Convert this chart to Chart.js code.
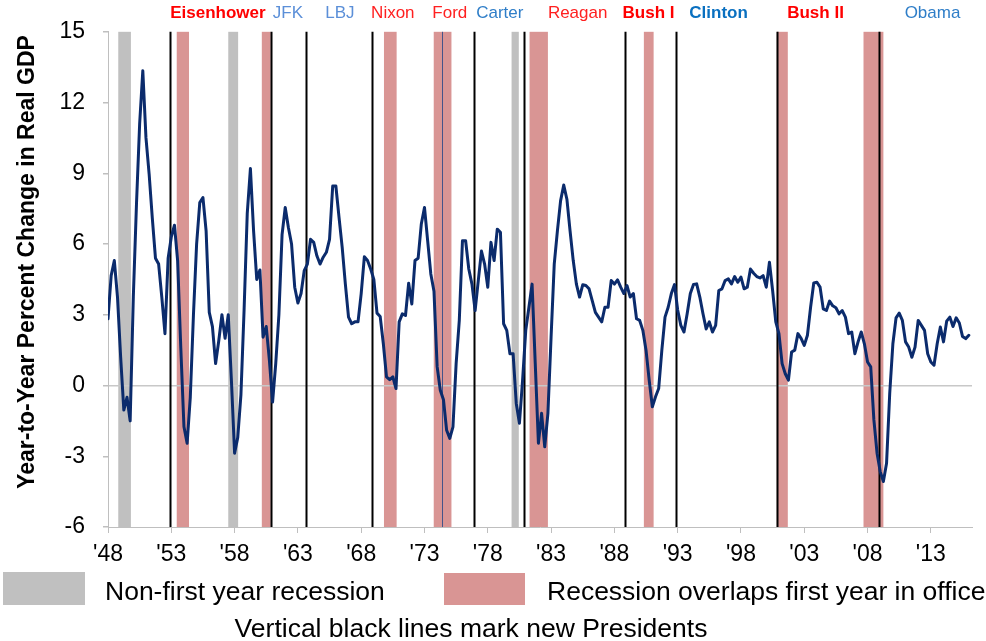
<!DOCTYPE html>
<html>
<head>
<meta charset="utf-8">
<script src="https://cdn.jsdelivr.net/npm/chart.js@4"></script>
<style>
  body { margin: 0; background: #fff; }
  #wrap { width: 986px; height: 641px; }
</style>
</head>
<body>
<div id="wrap"><canvas id="myChart" width="986" height="641"></canvas></div>
<script>
// quarterly data, first point = 1948 Q1
const startYear = 1948;

// Year-to-year % change in real GDP, one row = two years (8 quarters)
const gdpGrowth = [
  2.83, 4.66, 5.3, 3.75, 1.2, -1.04, -0.5, -1.5,
  3.75, 7.7, 11.1, 13.35, 10.5, 8.96, 7.1, 5.4,
  5.15, 3.75, 2.2, 5.4, 6.3, 6.8, 5.3, 1.6,
  -1.75, -2.45, -0.5, 3.0, 6.0, 7.76, 7.97, 6.56,
  3.1, 2.5, 0.93, 1.9, 3.0, 2.0, 3.0, 0.2,
  -2.87, -2.2, -0.4, 3.2, 7.3, 9.2, 6.56, 4.5,
  4.9, 2.05, 2.5, 1.07, -0.7, 0.93, 3.0, 6.4,
  7.55, 6.7, 6.0, 4.17, 3.5, 3.9, 4.87, 5.15,
  6.2, 6.07, 5.5, 5.15, 5.44, 5.65, 6.2, 8.46,
  8.46, 7.13, 5.86, 4.3, 2.9, 2.62, 2.7, 2.7,
  3.9, 5.46, 5.3, 4.94, 4.5, 3.07, 2.93, 1.77,
  0.37, 0.25, 0.37, -0.13, 2.7, 3.04, 2.97, 4.34,
  3.46, 5.3, 5.4, 6.85, 7.55, 6.14, 4.73, 4.0,
  0.8, -0.2, -0.6, -1.9, -2.24, -1.75, 0.93, 2.76,
  6.14, 6.14, 4.94, 4.3, 3.18, 4.45, 5.7, 5.15,
  4.17, 6.07, 5.3, 6.63, 6.5, 2.62, 2.34, 1.35,
  1.35, -0.76, -1.6, 0.23, 2.34, 3.32, 4.3, 0.93,
  -2.45, -1.18, -2.6, -1.18, 2.05, 5.15, 6.56, 7.83,
  8.5, 7.9, 6.56, 5.3, 4.3, 3.75, 4.27, 4.24,
  4.1, 3.6, 3.1, 2.9, 2.7, 3.32, 3.32, 4.45,
  4.3, 4.48, 4.17, 3.9, 4.24, 3.75, 3.9, 2.83,
  2.76, 2.34, 1.5, 0.23, -0.9, -0.48, -0.13, 1.5,
  2.9, 3.32, 3.9, 4.28, 3.2, 2.55, 2.27, 3.04,
  3.9, 4.28, 4.31, 3.75, 3.04, 2.4, 2.7, 2.27,
  2.55, 4.03, 4.1, 4.45, 4.52, 4.31, 4.62, 4.38,
  4.6, 4.1, 4.17, 4.94, 4.76, 4.62, 4.56, 4.66,
  4.17, 5.23, 4.03, 2.7, 2.2, 0.93, 0.5, 0.23,
  1.42, 1.5, 2.2, 2.0, 1.7, 2.13, 3.32, 4.35,
  4.38, 4.17, 3.25, 3.18, 3.58, 3.38, 3.3, 3.04,
  3.18, 2.9, 2.2, 2.27, 1.35, 1.85, 2.27, 1.77,
  1.0, 0.79, -1.46, -2.87, -3.65, -4.07, -3.3, -0.34,
  1.77, 2.87, 3.07, 2.76, 1.85, 1.63, 1.2, 1.63,
  2.76, 2.55, 2.34, 1.35, 1.0, 0.86, 1.77, 2.48,
  1.85, 2.73, 2.9, 2.5, 2.87, 2.65, 2.08, 1.99,
  2.13
];

const tickYears = [1948, 1953, 1958, 1963, 1968, 1973, 1978, 1983, 1988, 1993, 1998, 2003, 2008, 2013];
const tickLabels = ["'48", "'53", "'58", "'63", "'68", "'73", "'78", "'83", "'88", "'93", "'98", "'03", "'08", "'13"];
const yTicks = [-6, -3, 0, 3, 6, 9, 12, 15];

// recession shading (years), kind: 'other' = non-first year, 'first' = overlaps first year in office
const recessionStart = [1948.81, 1953.43, 1957.50, 1960.15, 1969.80, 1973.73, 1979.88, 1981.30, 1990.33, 2000.83, 2007.68];
const recessionEnd   = [1949.81, 1954.40, 1958.28, 1960.85, 1970.80, 1975.13, 1980.45, 1982.75, 1991.10, 2001.70, 2009.25];
const recessionKind  = ['other', 'first', 'other', 'first', 'first', 'first', 'other', 'first', 'first', 'first', 'first'];

// new presidents
const presidentNames = ['Eisenhower', 'JFK', 'LBJ', 'Nixon', 'Ford', 'Carter', 'Reagan', 'Bush I', 'Clinton', 'Bush II', 'Obama'];
const presidentStart = [1952.875, 1960.875, 1963.625, 1968.875, 1974.375, 1976.875, 1980.875, 1988.875, 1992.875, 2000.875, 2008.875];
const presidentLabelAt = [1956.68, 1962.21, 1966.32, 1970.5, 1975.0, 1978.95, 1985.1, 1990.7, 1996.23, 2003.89, 2013.13];

// label styles
const labelStyle = {
  'Eisenhower': ['#FF0000', true], 'JFK': ['#5B8FD8', false], 'LBJ': ['#5B8FD8', false],
  'Nixon': ['#FF2020', false], 'Ford': ['#FF2020', false], 'Carter': ['#2F7EC8', false],
  'Reagan': ['#FF2020', false], 'Bush I': ['#FF0000', true], 'Clinton': ['#0A70C0', true],
  'Bush II': ['#FF0000', true], 'Obama': ['#2F7EC8', false]
};

const FONT = '"Liberation Sans", Arial, sans-serif';
const points = gdpGrowth.map((v, i) => ({ x: startYear + i / 4, y: v }));

const overlays = {
  id: 'overlays',
  beforeDraw(chart) {
    const { ctx, chartArea: a, scales: { x } } = chart;
    ctx.save();
    recessionStart.forEach((s, i) => {
      const x0 = x.getPixelForValue(s);
      const x1 = x.getPixelForValue(recessionEnd[i]);
      ctx.fillStyle = recessionKind[i] === 'first' ? '#D99594' : '#C0C0C0';
      ctx.fillRect(x0, a.top, x1 - x0, a.bottom - a.top);
    });
    ctx.restore();
  },
  beforeDatasetsDraw(chart) {
    const { ctx, chartArea: a, scales: { x } } = chart;
    ctx.save();
    presidentStart.forEach((s, i) => {
      const px = Math.round(x.getPixelForValue(s)) + 0.5;
      if (presidentNames[i] === 'Ford') {
        ctx.strokeStyle = '#44548A';
        ctx.lineWidth = 1;
      } else {
        ctx.strokeStyle = '#000';
        ctx.lineWidth = 2;
      }
      ctx.beginPath();
      ctx.moveTo(px, a.top);
      ctx.lineTo(px, a.bottom);
      ctx.stroke();
    });
    ctx.restore();
  },
  afterDraw(chart) {
    const { ctx, scales: { x } } = chart;
    ctx.save();
    // president names
    ctx.textAlign = 'center';
    ctx.textBaseline = 'middle';
    presidentNames.forEach((n, i) => {
      const st = labelStyle[n];
      ctx.fillStyle = st[0];
      ctx.font = (st[1] ? 'bold ' : '') + '17px ' + FONT;
      ctx.fillText(n, x.getPixelForValue(presidentLabelAt[i]), 13);
    });
    // y axis title
    ctx.save();
    ctx.translate(28, 262);
    ctx.rotate(-Math.PI / 2);
    ctx.fillStyle = '#000';
    ctx.font = 'bold 23px ' + FONT;
    ctx.fillText('Year-to-Year Percent Change in Real GDP', 0, 0);
    ctx.restore();
    // legend
    ctx.fillStyle = '#C0C0C0';
    ctx.fillRect(3, 572, 82, 33);
    ctx.fillStyle = '#D99594';
    ctx.fillRect(444, 573, 81, 32);
    ctx.fillStyle = '#000';
    ctx.font = '26.5px ' + FONT;
    ctx.textAlign = 'left';
    ctx.textBaseline = 'alphabetic';
    ctx.fillText('Non-first year recession', 105, 600);
    ctx.fillText('Recession overlaps first year in office', 547, 600);
    ctx.textAlign = 'center';
    ctx.fillText('Vertical black lines mark new Presidents', 471, 637);
    ctx.restore();
  }
};

new Chart(document.getElementById('myChart'), {
  type: 'line',
  data: {
    datasets: [{
      data: points,
      borderColor: '#0B2B6C',
      borderWidth: 3,
      borderJoinStyle: 'round',
      borderCapStyle: 'round',
      pointRadius: 0,
      tension: 0,
      fill: false
    }]
  },
  options: {
    responsive: false,
    animation: false,
    layout: { padding: { left: 0, right: 14, top: 30, bottom: 0 } },
    plugins: { legend: { display: false }, tooltip: { enabled: false } },
    scales: {
      x: {
        type: 'linear',
        min: 1948,
        max: 2016.25,
        afterBuildTicks: (axis) => { axis.ticks = tickYears.map(v => ({ value: v })); },
        afterFit: (axis) => { axis.height = 114; },
        ticks: {
          autoSkip: false,
          maxRotation: 0,
          padding: 8,
          color: '#000',
          font: { family: FONT, size: 23 },
          callback: (v) => tickLabels[tickYears.indexOf(v)]
        },
        grid: { color: 'rgba(0,0,0,0)', tickColor: '#BFBFBF', tickLength: 6, drawOnChartArea: false },
        border: { color: '#BFBFBF', width: 1 }
      },
      y: {
        min: -6,
        max: 15,
        afterBuildTicks: (axis) => { axis.ticks = yTicks.map(v => ({ value: v })); },
        afterFit: (axis) => { axis.width = 108; },
        ticks: {
          padding: 18,
          color: '#000',
          font: { family: FONT, size: 23 }
        },
        grid: {
          color: (c) => (c.tick && c.tick.value === 0 ? '#C8C8C8' : 'rgba(0,0,0,0)'),
          lineWidth: 1.5,
          tickColor: '#BFBFBF',
          tickLength: 5
        },
        border: { color: '#BFBFBF', width: 1 }
      }
    }
  },
  plugins: [overlays]
});
</script>
</body>
</html>
